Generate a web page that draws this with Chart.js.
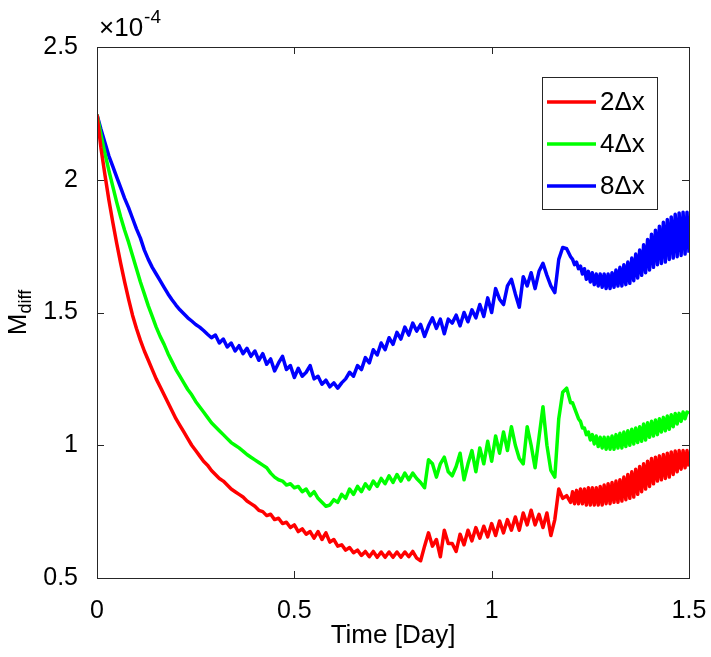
<!DOCTYPE html>
<html>
<head>
<meta charset="utf-8">
<script src="https://cdn.jsdelivr.net/npm/chart.js@4.4.1/dist/chart.umd.min.js"></script>
<style>
  html, body { margin: 0; padding: 0; background: #fff; }
  #wrap { width: 711px; height: 657px; }
</style>
</head>
<body>
<div id="wrap"><canvas id="mdiffChart" width="711" height="657"></canvas></div>
<script>
/* DATA (M_diff in units of 1e-4) */
const days = [
  0.00,0.01,0.02,0.03,0.04,0.05,0.06,0.07,0.08,0.09,
  0.10,0.11,0.12,0.13,0.14,0.15,0.16,0.17,0.18,0.19,
  0.20,0.21,0.22,0.23,0.24,0.25,0.26,0.27,0.28,0.29,
  0.30,0.31,0.32,0.33,0.34,0.35,0.36,0.37,0.38,0.39,
  0.40,0.41,0.42,0.43,0.44,0.45,0.46,0.47,0.48,0.49,
  0.50,0.51,0.52,0.53,0.54,0.55,0.56,0.57,0.58,0.59,
  0.60,0.61,0.62,0.63,0.64,0.65,0.66,0.67,0.68,0.69,
  0.70,0.71,0.72,0.73,0.74,0.75,0.76,0.77,0.78,0.79,
  0.80,0.81,0.82,0.83,0.84,0.85,0.86,0.87,0.88,0.89,
  0.90,0.91,0.92,0.93,0.94,0.95,0.96,0.97,0.98,0.99,
  1.00,1.01,1.02,1.03,1.04,1.05,1.06,1.07,1.08,1.09,
  1.10,1.11,1.12,1.13,1.14,1.15,1.16,1.17,1.18,1.19,
  1.20,
  1.205,1.21,1.215,1.22,1.225,1.23,1.235,1.24,1.245,1.25,
  1.255,1.26,1.265,1.27,1.275,1.28,1.285,1.29,1.295,1.30,
  1.305,1.31,1.315,1.32,1.325,1.33,1.335,1.34,1.345,1.35,
  1.355,1.36,1.365,1.37,1.375,1.38,1.385,1.39,1.395,1.40,
  1.405,1.41,1.415,1.42,1.425,1.43,1.435,1.44,1.445,1.45,
  1.455,1.46,1.465,1.47,1.475,1.48,1.485,1.49,1.495,1.50
];

const mdiff2dx = [
  2.245,2.12,2.02,1.925,1.84,1.76,1.685,1.615,1.55,1.49,
  1.44,1.395,1.355,1.32,1.285,1.25,1.22,1.19,1.16,1.13,
  1.10,1.075,1.05,1.025,1.0,0.98,0.96,0.94,0.925,0.905,
  0.89,0.875,0.865,0.85,0.835,0.825,0.815,0.805,0.79,0.78,
  0.77,0.755,0.75,0.735,0.74,0.72,0.725,0.705,0.71,0.69,
  0.70,0.675,0.685,0.665,0.675,0.65,0.675,0.645,0.67,0.635,
  0.645,0.62,0.625,0.605,0.615,0.595,0.605,0.585,0.60,0.58,
  0.60,0.578,0.598,0.578,0.598,0.578,0.598,0.578,0.598,0.58,
  0.60,0.575,0.565,0.62,0.67,0.62,0.645,0.58,0.68,0.63,
  0.63,0.60,0.665,0.625,0.68,0.64,0.69,0.65,0.695,0.655,
  0.705,0.66,0.715,0.67,0.72,0.68,0.73,0.68,0.745,0.70,
  0.755,0.70,0.74,0.69,0.745,0.66,0.72,0.835,0.80,0.81,
  0.785,
  0.825,0.78,0.83,0.78,0.835,0.78,0.835,0.775,0.84,0.775,
  0.84,0.775,0.84,0.775,0.845,0.775,0.85,0.78,0.855,0.78,
  0.86,0.785,0.865,0.785,0.87,0.79,0.88,0.795,0.89,0.80,
  0.90,0.805,0.91,0.815,0.92,0.825,0.93,0.835,0.94,0.845,
  0.95,0.855,0.955,0.865,0.96,0.87,0.965,0.875,0.97,0.88,
  0.975,0.89,0.978,0.90,0.98,0.91,0.98,0.915,0.98,0.92
];

const mdiff4dx = [
  2.245,2.17,2.10,2.035,1.975,1.915,1.86,1.81,1.765,1.715,
  1.665,1.615,1.57,1.525,1.485,1.445,1.41,1.38,1.345,1.315,
  1.285,1.26,1.235,1.21,1.19,1.165,1.145,1.125,1.105,1.085,
  1.07,1.055,1.04,1.025,1.01,1.0,0.99,0.978,0.965,0.955,
  0.945,0.935,0.925,0.915,0.895,0.88,0.87,0.865,0.85,0.855,
  0.84,0.845,0.825,0.835,0.81,0.825,0.80,0.785,0.77,0.775,
  0.795,0.785,0.815,0.80,0.835,0.815,0.845,0.825,0.855,0.835,
  0.865,0.845,0.875,0.855,0.885,0.86,0.89,0.865,0.895,0.87,
  0.895,0.875,0.86,0.84,0.945,0.93,0.88,0.93,0.955,0.90,
  0.885,0.92,0.97,0.87,0.93,0.98,0.90,0.99,0.93,1.015,
  0.94,1.035,0.97,1.05,0.98,1.07,1.0,0.95,0.93,1.07,
  1.0,0.915,1.03,1.145,1.0,0.905,0.88,1.10,1.20,1.215,
  1.16,
  1.16,1.14,1.12,1.10,1.09,1.065,1.065,1.04,1.05,1.02,
  1.04,1.005,1.035,0.995,1.03,0.99,1.03,0.985,1.03,0.985,
  1.035,0.985,1.04,0.99,1.045,0.99,1.05,0.995,1.055,1.0,
  1.06,1.005,1.065,1.01,1.07,1.015,1.08,1.02,1.085,1.03,
  1.09,1.035,1.095,1.04,1.10,1.05,1.105,1.055,1.11,1.06,
  1.115,1.07,1.12,1.08,1.12,1.09,1.125,1.10,1.125,1.12
];

const mdiff8dx = [
  2.245,2.19,2.14,2.09,2.05,2.01,1.97,1.93,1.895,1.855,
  1.815,1.78,1.735,1.70,1.67,1.645,1.62,1.595,1.57,1.548,
  1.528,1.51,1.495,1.48,1.468,1.455,1.445,1.432,1.418,1.405,
  1.415,1.385,1.40,1.37,1.385,1.355,1.375,1.345,1.365,1.335,
  1.355,1.32,1.345,1.305,1.325,1.28,1.31,1.335,1.285,1.30,
  1.255,1.29,1.26,1.275,1.30,1.25,1.26,1.23,1.245,1.22,
  1.235,1.215,1.235,1.25,1.275,1.26,1.30,1.285,1.33,1.31,
  1.36,1.34,1.385,1.36,1.405,1.38,1.425,1.40,1.445,1.415,
  1.46,1.43,1.455,1.41,1.45,1.48,1.44,1.475,1.42,1.475,
  1.46,1.49,1.45,1.50,1.465,1.51,1.48,1.53,1.485,1.555,
  1.50,1.59,1.55,1.53,1.60,1.625,1.57,1.52,1.635,1.60,
  1.65,1.59,1.655,1.685,1.64,1.60,1.575,1.70,1.745,1.74,
  1.71,
  1.70,1.68,1.69,1.665,1.675,1.645,1.665,1.625,1.655,1.615,
  1.65,1.605,1.645,1.60,1.645,1.595,1.645,1.59,1.645,1.59,
  1.65,1.595,1.66,1.60,1.67,1.60,1.68,1.605,1.69,1.61,
  1.705,1.62,1.72,1.63,1.735,1.64,1.755,1.65,1.775,1.66,
  1.795,1.67,1.81,1.68,1.825,1.685,1.84,1.69,1.85,1.70,
  1.86,1.705,1.87,1.71,1.875,1.715,1.878,1.72,1.878,1.725
];

const seriesLabels = ['2\u0394x', '4\u0394x', '8\u0394x'];
const seriesColors = ['#FF0000', '#00FF00', '#0000FF'];
const xTicks = [0, 0.5, 1, 1.5];
const yTicks = [0.5, 1, 1.5, 2, 2.5];

const FONT = "'Liberation Sans', Arial, Helvetica, sans-serif";
const AXIS_COLOR = '#262626';

function toPoints(ys) {
    return days.map(function (d, i) { return { x: d, y: ys[i] }; });
}

/* MATLAB STYLE BOX, TICKS, LABELS, LEGEND */
const matlabFrame = {
    id: 'matlabFrame',
    afterDraw: function (chart) {
        const ctx = chart.ctx;
        const a = chart.chartArea;
        const xs = chart.scales.x;
        const ys = chart.scales.y;
        const tick = 7;

        ctx.save();
        ctx.strokeStyle = AXIS_COLOR;
        ctx.lineWidth = 1;
        ctx.strokeRect(Math.round(a.left) + 0.5, Math.round(a.top) + 0.5,
            Math.round(a.right - a.left), Math.round(a.bottom - a.top));

        ctx.beginPath();
        xTicks.forEach(function (v) {
            const px = Math.round(xs.getPixelForValue(v)) + 0.5;
            ctx.moveTo(px, a.bottom); ctx.lineTo(px, a.bottom - tick);
            ctx.moveTo(px, a.top); ctx.lineTo(px, a.top + tick);
        });
        yTicks.forEach(function (v) {
            const py = Math.round(ys.getPixelForValue(v)) + 0.5;
            ctx.moveTo(a.left, py); ctx.lineTo(a.left + tick, py);
            ctx.moveTo(a.right, py); ctx.lineTo(a.right - tick, py);
        });
        ctx.stroke();

        // x axis title
        ctx.fillStyle = '#000';
        ctx.font = '26px ' + FONT;
        ctx.textAlign = 'center';
        ctx.textBaseline = 'middle';
        ctx.fillText('Time [Day]', (a.left + a.right) / 2, 636);

        // y axis title M_diff
        ctx.save();
        ctx.translate(19, (a.top + a.bottom) / 2);
        ctx.rotate(-Math.PI / 2);
        ctx.textAlign = 'left';
        ctx.textBaseline = 'middle';
        ctx.font = '26px ' + FONT;
        const mW = ctx.measureText('M').width;
        ctx.font = '18px ' + FONT;
        const sW = ctx.measureText('diff').width;
        const x0 = -(mW + sW) / 2;
        ctx.font = '26px ' + FONT;
        ctx.fillText('M', x0, 0);
        ctx.font = '18px ' + FONT;
        ctx.fillText('diff', x0 + mW, 7);
        ctx.restore();

        // exponent
        ctx.textAlign = 'left';
        ctx.textBaseline = 'alphabetic';
        ctx.font = '26px ' + FONT;
        ctx.fillText('\u00d710', 99, 36);
        const eW = ctx.measureText('\u00d710').width;
        ctx.font = '19px ' + FONT;
        ctx.fillText('-4', 99 + eW + 1, 23);

        // legend
        const lx = 542, ly = 77, lw = 115, lh = 132;
        ctx.fillStyle = '#fff';
        ctx.fillRect(lx, ly, lw, lh);
        ctx.strokeStyle = AXIS_COLOR;
        ctx.strokeRect(lx + 0.5, ly + 0.5, lw, lh);
        const rows = [102, 144, 186];
        chart.data.datasets.forEach(function (ds, i) {
            ctx.strokeStyle = ds.borderColor;
            ctx.lineWidth = 3.5;
            ctx.beginPath();
            ctx.moveTo(547, rows[i]);
            ctx.lineTo(596, rows[i]);
            ctx.stroke();
            ctx.fillStyle = '#000';
            ctx.font = '26px ' + FONT;
            ctx.textBaseline = 'middle';
            ctx.fillText(ds.label, 600, rows[i] + 1);
        });
        ctx.restore();
    }
};

/* CHART */
const ctx = document.getElementById('mdiffChart').getContext('2d');

new Chart(ctx, {
    type: 'line',
    data: {
        datasets: [
            { label: seriesLabels[0], data: toPoints(mdiff2dx), borderColor: seriesColors[0] },
            { label: seriesLabels[1], data: toPoints(mdiff4dx), borderColor: seriesColors[1] },
            { label: seriesLabels[2], data: toPoints(mdiff8dx), borderColor: seriesColors[2] }
        ]
    },
    options: {
        responsive: false,
        animation: false,
        layout: { padding: { top: 47, right: 22, left: 0, bottom: 0 } },
        elements: {
            point: { radius: 0 },
            line: { borderWidth: 3.5, tension: 0, fill: false, borderJoinStyle: 'round' }
        },
        plugins: {
            legend: { display: false },
            tooltip: { enabled: false }
        },
        scales: {
            x: {
                type: 'linear',
                min: 0,
                max: 1.5,
                afterFit: function (s) {
                    s.height = 79;
                    s.paddingLeft = 0;
                    s.paddingRight = 0;
                },
                afterBuildTicks: function (s) { s.ticks = xTicks.map(function (v) { return { value: v }; }); },
                grid: { display: false },
                border: { display: false },
                ticks: {
                    color: '#000',
                    padding: 10,
                    maxRotation: 0,
                    font: { family: FONT, size: 25 },
                    callback: function (v) { return String(v); }
                }
            },
            y: {
                min: 0.5,
                max: 2.5,
                afterFit: function (s) {
                    s.width = 97;
                    s.paddingTop = 0;
                    s.paddingBottom = 0;
                },
                afterBuildTicks: function (s) { s.ticks = yTicks.map(function (v) { return { value: v }; }); },
                grid: { display: false },
                border: { display: false },
                ticks: {
                    color: '#000',
                    padding: 11,
                    font: { family: FONT, size: 25 },
                    callback: function (v) { return String(v); }
                }
            }
        }
    },
    plugins: [matlabFrame]
});
</script>
</body>
</html>
